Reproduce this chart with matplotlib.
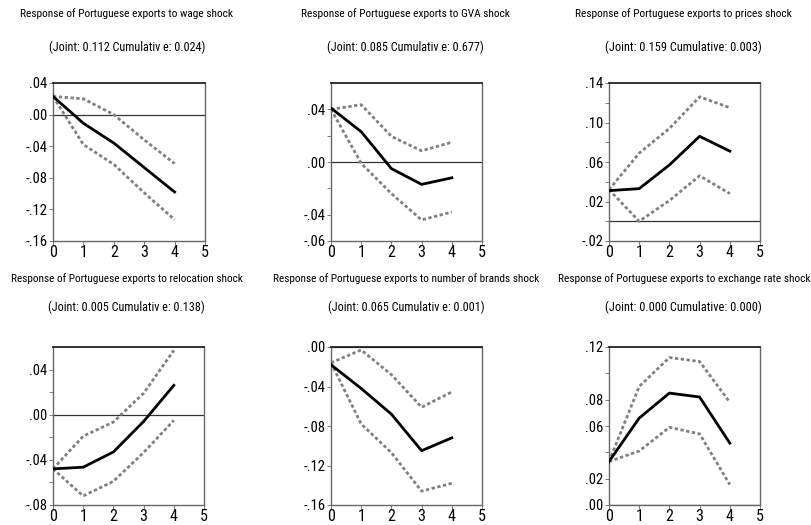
import matplotlib
matplotlib.use("Agg")
import matplotlib.pyplot as plt
from matplotlib import font_manager
from matplotlib.font_manager import FontProperties
import numpy as np

# pick a narrow font if one exists
narrow_file = None
for pref in ["LiberationSansNarrow-Regular", "RobotoCondensed-Regular", "DejaVuSansCondensed.ttf",
             "OpenSans_Condensed", "Narrow", "Condensed"]:
    for f in font_manager.findSystemFonts():
        base = f.split("/")[-1]
        if pref in base and "Bold" not in base and "Oblique" not in base and "Italic" not in base:
            narrow_file = f
            break
    if narrow_file:
        break

plt.rcParams['font.family'] = ['Liberation Sans', 'DejaVu Sans']

def title_props(size):
    if narrow_file:
        return FontProperties(fname=narrow_file, size=size)
    return FontProperties(family=['Liberation Sans', 'DejaVu Sans'], size=size)

periods = [0, 1, 2, 3, 4]

titles = [
    "Response of Portuguese exports to wage shock",
    "Response of Portuguese exports to GVA shock",
    "Response of Portuguese exports to prices shock",
    "Response of Portuguese exports to relocation shock",
    "Response of Portuguese exports to number of brands shock",
    "Response of Portuguese exports to exchange rate shock",
]
subtitles = [
    "(Joint: 0.112 Cumulativ e: 0.024)",
    "(Joint: 0.085 Cumulativ e: 0.677)",
    "(Joint: 0.159 Cumulative: 0.003)",
    "(Joint: 0.005 Cumulativ e: 0.138)",
    "(Joint: 0.065 Cumulativ e: 0.001)",
    "(Joint: 0.000 Cumulative: 0.000)",
]

wage_mid = [0.023, -0.011, -0.036, -0.067, -0.098]
wage_up = [0.023, 0.020, 0.000, -0.032, -0.062]
wage_lo = [0.023, -0.038, -0.063, -0.099, -0.133]

gva_mid = [0.041, 0.023, -0.005, -0.017, -0.012]
gva_up = [0.040, 0.0435, 0.0195, 0.0085, 0.015]
gva_lo = [0.040, -0.001, -0.024, -0.044, -0.038]

prices_mid = [0.031, 0.033, 0.057, 0.086, 0.071]
prices_up = [0.032, 0.069, 0.094, 0.126, 0.115]
prices_lo = [0.032, 0.000, 0.021, 0.046, 0.028]

reloc_mid = [-0.048, -0.0465, -0.033, -0.006, 0.026]
reloc_up = [-0.048, -0.019, -0.0065, 0.019, 0.057]
reloc_lo = [-0.048, -0.072, -0.059, -0.0335, -0.005]

brands_mid = [-0.018, -0.042, -0.068, -0.105, -0.092]
brands_up = [-0.016, -0.003, -0.028, -0.061, -0.0455]
brands_lo = [-0.016, -0.078, -0.107, -0.146, -0.138]

fx_mid = [0.033, 0.066, 0.085, 0.082, 0.047]
fx_up = [0.033, 0.090, 0.112, 0.109, 0.078]
fx_lo = [0.033, 0.041, 0.059, 0.054, 0.0155]

series = [
    (wage_mid, wage_up, wage_lo),
    (gva_mid, gva_up, gva_lo),
    (prices_mid, prices_up, prices_lo),
    (reloc_mid, reloc_up, reloc_lo),
    (brands_mid, brands_up, brands_lo),
    (fx_mid, fx_up, fx_lo),
]

ylims = [(-0.16, 0.04), (-0.06, 0.06), (-0.02, 0.14), (-0.08, 0.06), (-0.16, 0.0), (0.0, 0.12)]
ymajor = [
    [0.04, 0.00, -0.04, -0.08, -0.12, -0.16],
    [0.04, 0.00, -0.04, -0.06],
    [0.14, 0.10, 0.06, 0.02, -0.02],
    [0.04, 0.00, -0.04, -0.08],
    [0.00, -0.04, -0.08, -0.12, -0.16],
    [0.12, 0.08, 0.06, 0.02, 0.00],
]
yminor = [
    [],
    [0.02, -0.02],
    [0.12, 0.08, 0.04, 0.00],
    [0.02, -0.02, -0.06],
    [],
    [0.10, 0.04],
]
xticks = [0, 1, 2, 3, 4, 5]

def fmt(v):
    if abs(v) < 1e-9:
        return ".00"
    s = f"{v:.2f}"
    return s.replace("0.", ".")

W, H = 812, 525
fig = plt.figure(figsize=(W / 100, H / 100), dpi=100)
boxes = [
    (53, 83, 205, 241), (331, 83, 482, 241), (609, 83, 760, 241),
    (53, 347, 204, 505), (331, 347, 482, 505), (609, 347, 760, 505),
]
title_cx = [127, 405.5, 683.3, 126.7, 406.3, 683.8]
title_w = [212, 208, 215, 230, 263, 250]
sub_w = [155, 155, 155, 155, 155, 155]
title_y = [14, 14, 14, 279, 279, 279]
sub_y = [47, 47, 47, 307, 307, 307]

renderer = fig.canvas.get_renderer()

def fitted_text(x, y, s, target_w):
    t = fig.text(x / W, 1 - y / H, s, ha="center", va="center", fontproperties=title_props(10))
    w = t.get_window_extent(renderer=renderer).width
    t.set_fontsize(10 * target_w / w)
    return t

tick_fp = title_props(10.5)

for i, (x0, y0, x1, y1) in enumerate(boxes):
    ax = fig.add_axes([x0 / W, 1 - y1 / H, (x1 - x0) / W, (y1 - y0) / H])
    mid, up, lo = series[i]
    ax.axhline(0, color="#333333", lw=0.9, zorder=1)
    ax.plot(periods, up, color="#808080", lw=2.0, ls=(0, (1.2, 0.9)), zorder=2)
    ax.plot(periods, lo, color="#808080", lw=2.0, ls=(0, (1.2, 0.9)), zorder=2)
    ax.plot(periods, mid, color="black", lw=2.0, zorder=3)
    ax.set_xlim(0, 5)
    ax.set_ylim(*ylims[i])
    ax.set_xticks(xticks)
    ax.set_xticklabels([str(t) for t in xticks], fontproperties=title_props(11.5))
    ax.set_yticks(ymajor[i])
    ax.set_yticklabels([fmt(v) for v in ymajor[i]], fontproperties=tick_fp)
    ax.set_yticks(yminor[i], minor=True)
    ax.tick_params(axis="both", which="major", length=3, width=0.6,
                   color="#666666", pad=1)
    ax.tick_params(axis="y", which="minor", length=3, width=0.6, color="#666666")
    ax.tick_params(axis="x", which="major", direction="out", length=3, pad=0)
    for side in ["left", "right", "bottom"]:
        ax.spines[side].set_color("#666666")
        ax.spines[side].set_linewidth(1.0)
    ax.spines["top"].set_color("#222222")
    ax.spines["top"].set_linewidth(1.3)
    fitted_text(title_cx[i], title_y[i], titles[i], title_w[i])
    fitted_text(title_cx[i], sub_y[i], subtitles[i], sub_w[i])

fig.savefig("out.png", dpi=100)
